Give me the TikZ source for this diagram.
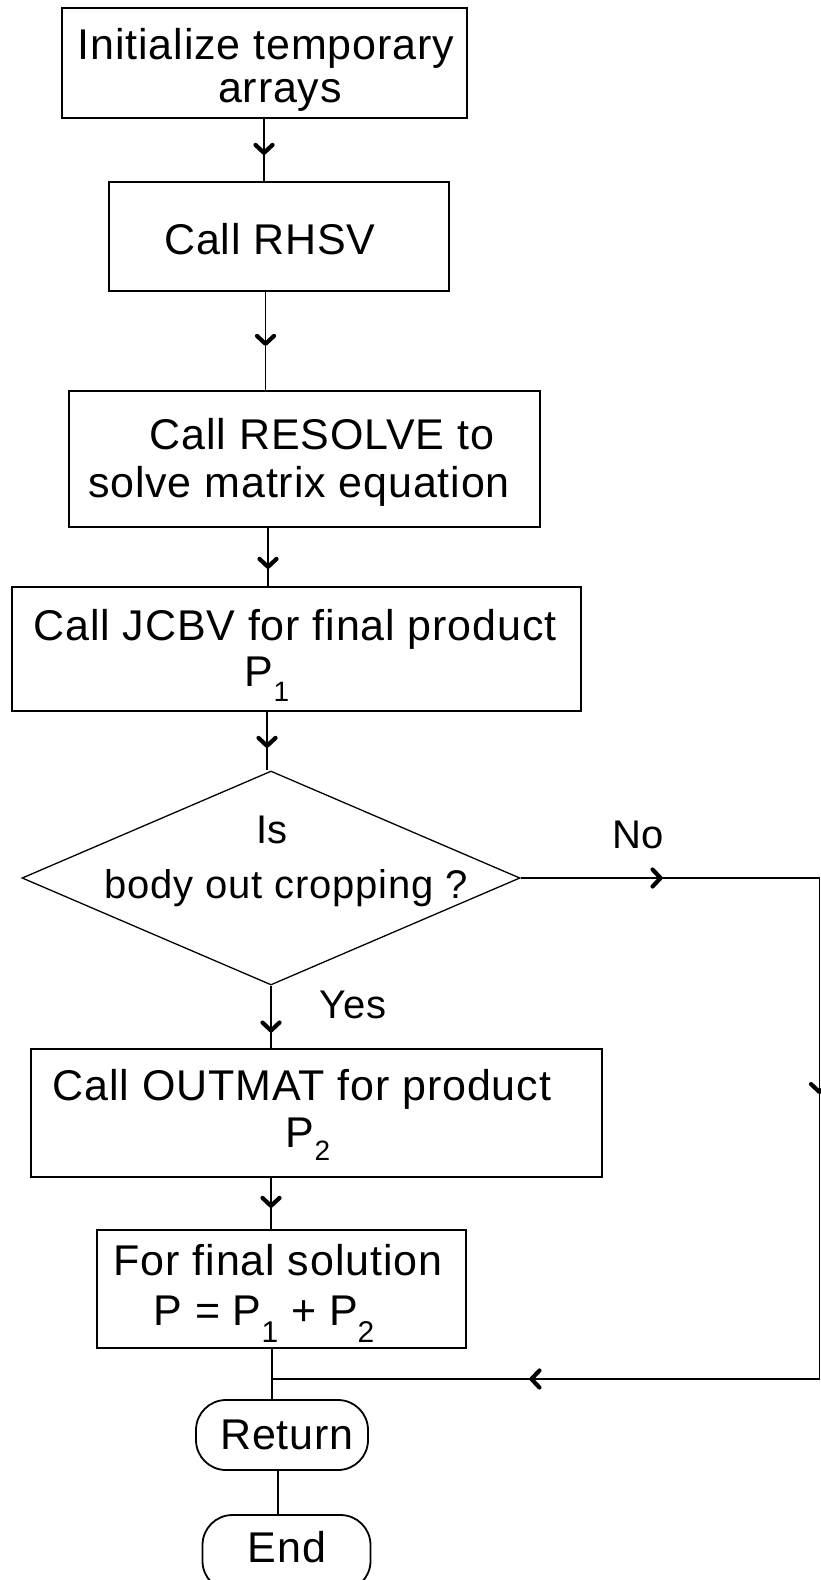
\documentclass[tikz,border=0pt]{standalone}
\usepackage{fontspec}
\setmainfont{Liberation Sans}[LetterSpace=2]
\usetikzlibrary{arrows.meta,decorations.markings,shapes.geometric}

% lowered subscript digit, as in P1 / P2
\newcommand{\lowsub}[3][28]{\raisebox{-#2}{\fontsize{#1}{#1}\selectfont #3}}

\tikzset{
  x=1pt, y=-1pt,
  every node/.style={font=\fontsize{43}{49}\selectfont},
  stepbox/.style={draw, rectangle, line width=2pt, inner sep=0pt},
  terminal/.style={draw, rectangle, rounded corners=30pt, line width=1.8pt, inner sep=0pt},
  decision/.style={draw, diamond, line width=1.3pt, inner sep=0pt,
                   minimum width=498pt, minimum height=214pt},
  lbl/.style={anchor=base, inner sep=0pt},
  smalllbl/.style={lbl, font=\fontsize{40}{46}\selectfont},
  link/.style={line width=1.8pt},
  flowbarb/.tip={Straight Barb[length=8pt,width=17pt,line width=4.2pt,round]},
  tipat/.style={postaction={decorate, decoration={markings,
      mark=at position #1 with {\arrow{flowbarb}}}}},
}

\begin{document}
\begin{tikzpicture}
  \fill[white] (0,0) rectangle (821,1580);
  \useasboundingbox (0,0) rectangle (821,1580);

  % process boxes
  \node[stepbox, minimum width=405pt, minimum height=110pt] (init)    at (264.5,63)   {};
  \node[stepbox, minimum width=340pt, minimum height=109pt] (rhsv)    at (279,236.5)  {};
  \node[stepbox, minimum width=471pt, minimum height=136pt] (resolve) at (304.5,459)  {};
  \node[stepbox, minimum width=569pt, minimum height=124pt] (jcbv)    at (296.5,649)  {};
  \node[decision] (dec) at (271,878) {};
  \node[stepbox, minimum width=571pt, minimum height=128pt] (outmat)  at (316.5,1113) {};
  \node[stepbox, minimum width=369pt, minimum height=118pt] (final)   at (281.5,1289) {};
  \node[terminal, minimum width=172pt, minimum height=70pt] (ret)     at (282,1435)   {};
  \node[terminal, minimum width=168pt, minimum height=76pt] (endn)    at (286.5,1553) {};

  % texts
  \node[lbl] (t1a) at (266,59)   {Initialize temporary};
  \node[lbl] (t1b) at (280,102)  {arrays};
  \node[lbl] (t2)  at (270,254)  {Call RHSV};
  \node[lbl] (t3a) at (322,449)  {Call RESOLVE to};
  \node[lbl] (t3b) at (299,497)  {solve matrix equation};
  \node[lbl] (t4a) at (295,640)  {Call JCBV for final product};
  \node[lbl] (t4b) at (267,686)  {P\lowsub{15pt}{1}};
  \node[smalllbl] (t5a) at (272,843)  {Is};
  \node[smalllbl] (t5b) at (286,898)  {body out cropping ?};
  \node[smalllbl] (tno) at (638,848)  {No};
  \node[smalllbl] (tye) at (353,1018) {Yes};
  \node[lbl] (t6a) at (302,1100) {Call OUTMAT for product};
  \node[lbl] (t6b) at (308,1147) {P\lowsub{13pt}{2}};
  \node[lbl] (t7a) at (278,1275) {For final solution};
  \node[lbl] (t7b) at (264,1325) {P = P\lowsub[30]{17pt}{1} + P\lowsub[30]{17pt}{2}};
  \node[lbl] (t8)  at (287,1449) {Return};
  \node[lbl] (t9)  at (287,1562) {End};

  % connector columns
  \coordinate (vx1) at (264,0);
  \coordinate (vx2) at (265.5,0);
  \coordinate (vx3) at (268,0);
  \coordinate (vx4) at (267,0);
  \coordinate (vx5) at (271,0);
  \coordinate (vx6) at (272,0);
  \coordinate (vx7) at (278,0);
  \coordinate (rx)  at (819.5,0);
  \coordinate (merge) at (272,1379);

  % main flow
  \draw[link, tipat=36pt] (init.south -| vx1)    -- (rhsv.north -| vx1);
  \draw[link, tipat=54pt] (rhsv.south -| vx2)    -- (resolve.north -| vx2);
  \draw[link, tipat=41pt] (resolve.south -| vx3) -- (jcbv.north -| vx3);
  \draw[link, tipat=36pt] (jcbv.south -| vx4)    -- (dec.north -| vx4);
  \draw[link, tipat=47pt] (dec.south -| vx5)     -- (outmat.north -| vx5);
  \draw[link, tipat=30pt] (outmat.south -| vx5)  -- (final.north -| vx5);
  \draw[link] (final.south -| vx6) -- (ret.north -| vx6);
  \draw[link] (ret.south -| vx7) -- (endn.north -| vx7);

  % "No" branch back to the merge point
  \draw[link, line width=1.6pt, tipat=142pt, tipat=515pt, tipat=1090pt]
    (dec.east) -- (dec.east -| rx) -- (rx |- merge) -- (merge);
\end{tikzpicture}
\end{document}
